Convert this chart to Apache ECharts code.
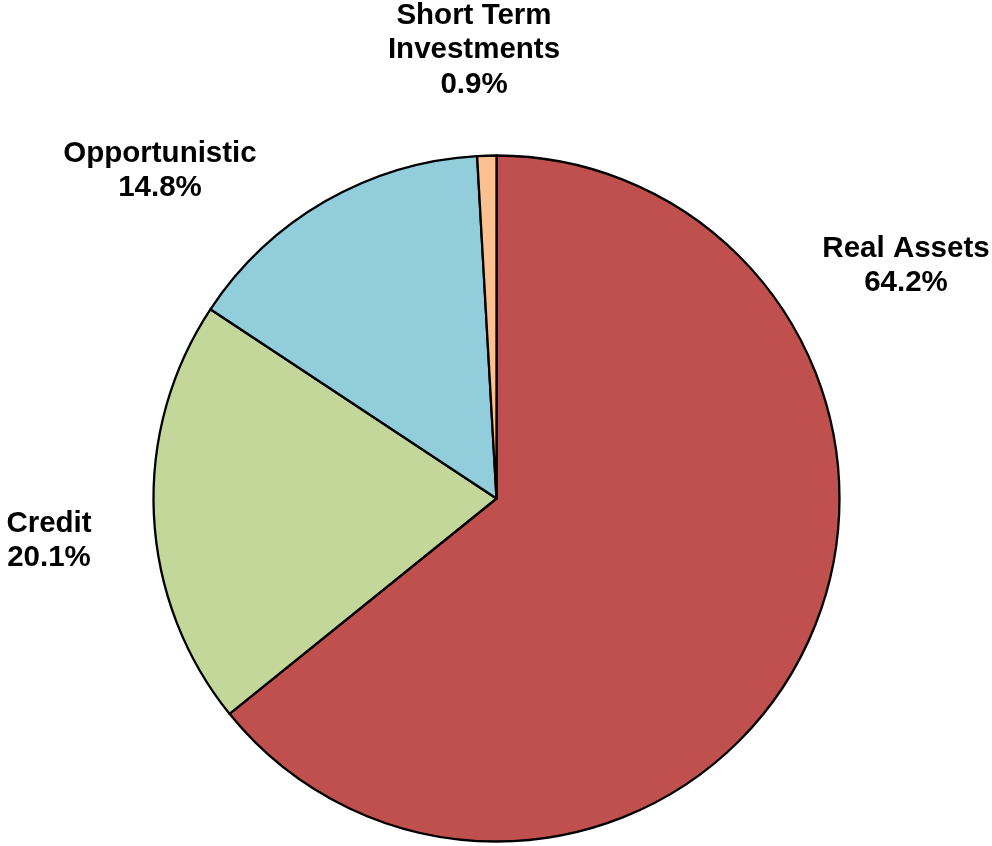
<!DOCTYPE html>
<html>
<head>
<meta charset="utf-8">
<script src="https://cdn.jsdelivr.net/npm/echarts@6/dist/echarts.min.js"></script>
<style>html,body{margin:0;padding:0;background:#fff}#c{width:992px;height:846px}</style>
</head>
<body>
<div id="c"></div>
<script>
const categories = ['Real Assets', 'Credit', 'Opportunistic', 'Short Term\nInvestments'];
const values = [64.2, 20.1, 14.8, 0.9];
const colors = ['#C0504D', '#C4D79B', '#92CDDC', '#FAC090'];
const labelPos = [[906, 266], [49, 541], [160, 171], [474, 50]];

const chart = echarts.init(document.getElementById('c'), null, {renderer: 'canvas'});
chart.setOption({
  backgroundColor: '#ffffff',
  animation: false,
  series: [{
    type: 'pie',
    center: [496.5, 498.5],
    radius: [0, 343],
    startAngle: 90,
    clockwise: true,
    avoidLabelOverlap: false,
    data: categories.map((n, i) => ({name: n, value: values[i], itemStyle: {color: colors[i]}})),
    itemStyle: {borderColor: '#000', borderWidth: 2.3},
    label: {
      show: true,
      position: 'outside',
      formatter: p => p.name + '\n' + p.value.toFixed(1) + '%',
      fontFamily: 'Liberation Sans, Arial, sans-serif',
      fontWeight: 'bold',
      fontSize: 29.5,
      lineHeight: 34.5,
      color: '#000',
      align: 'center'
    },
    labelLine: {show: false},
    labelLayout: function (params) {
      const p = labelPos[params.dataIndex];
      return {x: p[0], y: p[1], align: 'center', verticalAlign: 'middle', hideOverlap: false};
    },
    emphasis: {disabled: true}
  }]
});
</script>
</body>
</html>
